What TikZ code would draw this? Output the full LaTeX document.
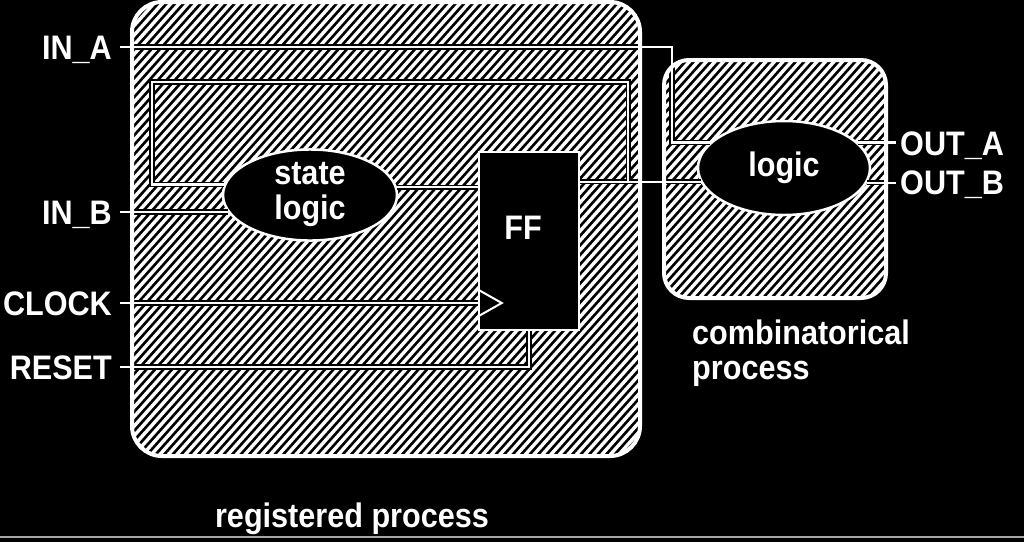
\documentclass[tikz,border=0pt]{standalone}
\usepackage{fontspec}
\setmainfont[FakeStretch=0.9]{Liberation Sans}
\usetikzlibrary{shapes.geometric}
\usetikzlibrary{positioning, calc}

\begin{document}
\begin{tikzpicture}[
    x=1pt, y=-1pt,
    hatch/.style={white, line width=3.4pt},
    box/.style={white, line width=4pt},
    wire/.style={draw=black, line width=1.6pt, double=white, double distance=2.2pt},
    txt/.style={text=white, font=\fontsize{34}{35}\selectfont\bfseries, inner sep=0pt},
    blob/.style={txt, ellipse, draw=white, fill=black, line width=2.5pt, align=center},
    pin/.style={txt, text height=24pt, text depth=0pt, inner xsep=8pt}
]
    \useasboundingbox (0,0) rectangle (1024,542);
    \fill[black] (0,0) rectangle (1024,542);
    \draw[gray!70, line width=2pt] (0,537) -- (1024,537);

    % hatched process areas
    \begin{scope}
        \clip[rounded corners=30pt] (132,2) rectangle (640,456);
        \foreach \a in {-270,-261.5,...,650} \draw[hatch] (\a,460) -- ++(410,-460);
    \end{scope}
    \begin{scope}
        \clip[rounded corners=25pt] (664,60) rectangle (886,298);
        \foreach \a in {400,408.5,...,890} \draw[hatch] (\a,300) -- ++(268,-300);
    \end{scope}

    \node[blob, minimum width=174pt, minimum height=90pt] (slogic) at (310,195) {state\\logic};
    \node[blob, minimum width=172pt, minimum height=94pt] (logic) at (784,168) {logic};
    \node[draw=white, fill=black, line width=2.5pt, minimum width=100pt, minimum height=178pt, inner sep=0pt] (ff) at (529,241) {};
    \node[txt] (fflbl) at ($(ff)+(-6,-13)$) {FF};

    \node[pin, anchor=east] (ina) at (120,47) {IN\_A};
    \node[pin, anchor=east] (inb) at (120,212) {IN\_B};
    \node[pin, anchor=east] (clock) at (120,303) {CLOCK};
    \node[pin, anchor=east] (reset) at (120,367) {RESET};
    \node[pin, anchor=west, inner xsep=4pt] (outa) at (896,143) {OUT\_A};
    \node[pin, anchor=west, inner xsep=4pt] (outb) at (896,182) {OUT\_B};

    \coordinate (ta) at (672,47);
    \coordinate (q) at ($(ff.north east)+(0,31)$);
    \coordinate (j) at ($(q)+(48,0)$);
    \coordinate (lt) at (152,82);

    % wires
    \draw[wire] (ina.east) -- (ta) |- (logic.161);
    \draw[wire] (inb.east) -- (slogic.192 |- inb.east);
    \draw[wire] (clock.east) -- (clock.east -| ff.west);
    \draw[wire] (reset.east) -| (ff.south);
    \draw[wire] (slogic.5) -- (slogic.5 -| ff.west);
    \draw[wire] (q) -- (logic.190 |- q);
    \draw[wire] ([yshift=1pt]j) |- (lt) |- (slogic.173);
    \draw[wire] (logic.19) -- (logic.19 -| outa.west);
    \draw[wire] (logic.350) -- (logic.350 -| outb.west);

    \draw[white, line width=2pt] ($(clock.east -| ff.west)+(1,-13)$) -- ++(23,13) -- ++(-23,13);

    \draw[box, rounded corners=30pt] (132,2) rectangle (640,456);
    \draw[box, rounded corners=25pt] (664,60) rectangle (886,298);

    \node[txt, anchor=base] (regcap) at (352,527) {registered process};
    \node[txt, anchor=north west, align=left] (combcap) at (692,320) {combinatorical\\process};
\end{tikzpicture}
\end{document}
